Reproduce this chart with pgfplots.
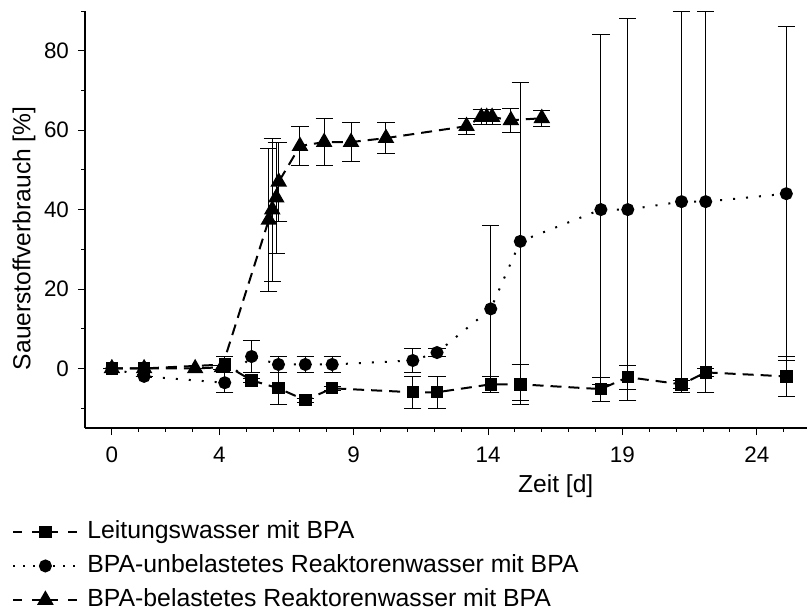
\documentclass[border=0pt]{standalone}
\usepackage{fontspec}
\setmainfont{Liberation Sans}
\usepackage{pgfplots}
\usepackage{pgfplotstable}
\pgfplotsset{compat=1.18}

% Leitungswasser mit BPA
\pgfplotstableread{
x     y     e
0     0     0
1.2   0     0
4.2   1     2
5.2   -3    0.5
6.2   -5    4
7.2   -8    0.5
8.2   -5    0.5
11.2  -6    4
12.1  -6    4
14.1  -4    2
15.2  -4    5
18.2  -5.2  3
19.2  -2.2  3
21.2  -4    1
22.1  -1    1
25.1  -2    5
}\leitung

% BPA-unbelastetes Reaktorenwasser mit BPA
\pgfplotstableread{
x     y     e
0     0     0
1.2   -2    0
4.2   -3.6  2.5
5.2   3     4
6.2   1     2
7.2   1     2
8.2   1     2
11.2  2     3
12.1  4     1
14.1  15    21
15.2  32    40
18.2  40    44
19.2  40    48
21.2  42    48
22.1  42    48
25.1  44    42
}\unbelastet

% BPA-belastetes Reaktorenwasser mit BPA
\pgfplotstableread{
x     y     e
0     0     0
1.2   0     0
3.1   0     0
4.1   0.3   0.5
5.84  37.4  18
5.97  40    18
6.12  43    14
6.21  47    10
7.0   56    5
7.9   57    6
8.9   57    5
10.2  58    4
13.2  61    2
13.75 63.3  2
13.95 63.3  2
14.15 63.3  2
14.85 62.5  3
16.0  63    2
}\belastet

\pgfplotsset{
  errstyle/.style={
    error bars/.cd, y dir=both, y explicit,
    error bar style={solid, line width=0.5pt, black},
    error mark options={solid, rotate=90, mark size=4.3pt, line width=0.5pt, black}
  },
  % legend sample: dash, gap, short dash / mark / short dash, gap, dash
  dashleg/.style={legend image code/.code={
    \draw[##1, dash pattern=on 4.5pt off 5pt on 13pt off 5pt on 4.5pt]
      (0pt,0pt) -- (32pt,0pt);
    \draw[##1] plot coordinates {(16pt,0pt)};
    \path (36.5pt,0pt);
  }},
  dotleg/.style={legend image code/.code={
    \draw[##1, dash pattern=on 1pt off 4pt, dash phase=0pt]
      (0pt,0pt) -- (32pt,0pt);
    \draw[##1] plot coordinates {(16pt,0pt)};
    \path (36.5pt,0pt);
  }},
}

\begin{document}
\begin{tikzpicture}[x=1pt,y=1pt]
\path[use as bounding box] (-42.5,-92) rectangle (361,214);
\begin{axis}[
  at={(0,0)}, anchor=south west,
  scale only axis, width=361pt, height=208.5pt,
  xmin=-1, xmax=25.87, ymin=-15, ymax=90,
  axis x line*=bottom, axis y line*=left,
  axis line style={-, line width=0.75pt},
  tick align=outside,
  major tick length=3.5pt, minor tick length=1.75pt,
  every tick/.style={black, line width=0.5pt},
  xtick={0,4,9,14,19,24},
  minor xtick={1,2,3,5,6,7,8,10,11,12,13,15,16,17,18,20,21,22,23,25},
  ytick={0,20,40,60,80},
  minor ytick={-10,10,30,50,70,90},
  font=\fontsize{12.3}{14.8}\selectfont,
  tick label style={font=\fontsize{11.2}{13.4}\selectfont},
  /pgf/number format/assume math mode=true,
  xticklabel style={yshift=-2.5pt},
  yticklabel style={xshift=-1pt},
  xlabel={Zeit [d]},
  xlabel style={at={(axis description cs:0.652,-0.14)}, anchor=center},
  ylabel={Sauerstoffverbrauch [\%]},
  ylabel style={at={(axis description cs:-0.0845,0.455)}, anchor=center},
  legend style={at={(axis description cs:-0.1011,-0.2205)}, anchor=north west,
    draw=none, fill=none, inner sep=0pt, row sep=5.4pt,
    nodes={inner sep=0pt, text height=9pt, text depth=2.6pt,
      font=\fontsize{12.4}{14.9}\selectfont}},
  legend cell align=left,
]
\addplot[black, line width=1pt, dash pattern=on 5.5pt off 3.5pt,
  mark=square*, mark size=2.6pt, mark options={solid, fill=black},
  dashleg, errstyle]
  table[x=x, y=y, y error=e] {\leitung};
\addlegendentry{Leitungswasser mit BPA}

\addplot[black, line width=1pt, dash pattern=on 1pt off 5.5pt,
  mark=*, mark size=2.75pt, mark options={solid, fill=black},
  dotleg, errstyle]
  table[x=x, y=y, y error=e] {\unbelastet};
\addlegendentry{BPA-unbelastetes Reaktorenwasser mit BPA}

\addplot[black, line width=1pt, dash pattern=on 5.5pt off 3.5pt,
  mark=triangle*, mark size=3.8pt, mark options={solid, fill=black},
  dashleg, errstyle]
  table[x=x, y=y, y error=e] {\belastet};
\addlegendentry{BPA-belastetes Reaktorenwasser mit BPA}
\end{axis}
\end{tikzpicture}
\end{document}
